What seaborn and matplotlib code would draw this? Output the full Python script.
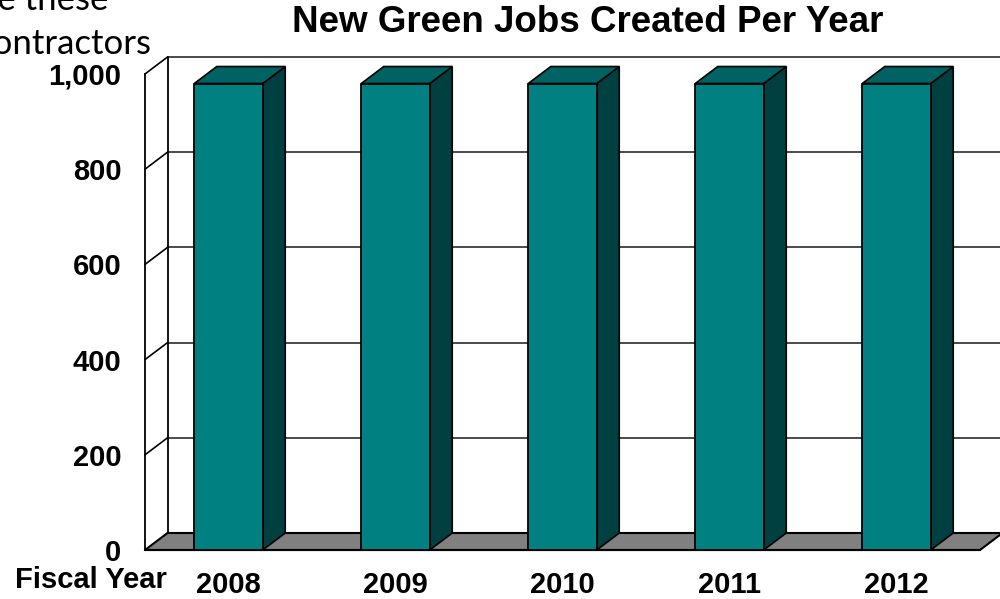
import matplotlib
matplotlib.use("Agg")
import matplotlib.pyplot as plt
from matplotlib.patches import Polygon
import seaborn as sns

# Chart data
years = ["2008", "2009", "2010", "2011", "2012"]
jobs = [980, 980, 980, 980, 980]
y_ticks = [0, 200, 400, 600, 800, 1000]
y_tick_labels = ["0", "200", "400", "600", "800", "1,000"]

title = "New Green Jobs Created Per Year"
x_caption = "Fiscal Year"
slide_lines = ["use these", "contractors"]

sns.set_style("white")
plt.rcParams["font.family"] = ["Liberation Sans", "DejaVu Sans"]
plt.rcParams["text.color"] = "black"
plt.rcParams["xtick.color"] = "black"
plt.rcParams["ytick.color"] = "black"
plt.rcParams["xtick.labelcolor"] = "black"
plt.rcParams["ytick.labelcolor"] = "black"

W, H = 1000, 599
fig = plt.figure(figsize=(W / 100, H / 100), dpi=100)

# Front plane of the 3-D box, in pixels
left_px, right_px, top_px, bottom_px = 145, 980, 74, 550
ax = fig.add_axes([left_px / W, 1 - bottom_px / H,
                   (right_px - left_px) / W, (bottom_px - top_px) / H])

TEAL = "#008080"
TEAL_TOP = "#006262"
TEAL_SIDE = "#004040"
FLOOR = "#808080"

sns.barplot(x=years, y=jobs, color=TEAL, saturation=1, width=0.41,
            edgecolor="black", linewidth=1.3, ax=ax, zorder=5)
bars = list(ax.patches)

x0, x1 = -0.5, len(years) - 0.5
y0, y1 = 0, 1000
ax.set_xlim(x0, x1)
ax.set_ylim(y0, y1)

# Depth of the box: pixel offset converted into data units
depth_px_x, depth_px_y = 22.5, 17
ddx = depth_px_x / (right_px - left_px) * (x1 - x0)
ddy = depth_px_y / (bottom_px - top_px) * (y1 - y0)

# Back wall gridlines and left wall
for v in y_ticks[1:]:
    ax.plot([x0 + ddx, x1 + ddx + 0.2], [v + ddy, v + ddy], color="#4a4a4a",
            lw=1.4, clip_on=False, zorder=1)
    ax.plot([x0, x0 + ddx], [v, v + ddy], color="black", lw=1.2,
            clip_on=False, zorder=1)
ax.plot([x0 + ddx, x0 + ddx], [ddy, y1 + ddy], color="black", lw=1.3,
        clip_on=False, zorder=1)

# Floor
ax.add_patch(Polygon([(x0, 0), (x1, 0), (x1 + ddx, ddy), (x0 + ddx, ddy)],
                     closed=True, facecolor=FLOOR, edgecolor="black",
                     lw=1.5, clip_on=False, zorder=2))

# Top and side faces of each bar
for bar in bars:
    bx, bw, bh = bar.get_x(), bar.get_width(), bar.get_height()
    side = [(bx + bw, 0), (bx + bw + ddx, ddy), (bx + bw + ddx, bh + ddy), (bx + bw, bh)]
    top = [(bx, bh), (bx + bw, bh), (bx + bw + ddx, bh + ddy), (bx + ddx, bh + ddy)]
    ax.add_patch(Polygon(side, closed=True, facecolor=TEAL_SIDE,
                         edgecolor="black", lw=1.2, clip_on=False, zorder=4))
    ax.add_patch(Polygon(top, closed=True, facecolor=TEAL_TOP,
                         edgecolor="black", lw=1.2, clip_on=False, zorder=4))

# Axes styling
for s in ["top", "right"]:
    ax.spines[s].set_visible(False)
ax.spines["left"].set_color("black")
ax.spines["left"].set_linewidth(1.3)
ax.spines["bottom"].set_color("black")
ax.spines["bottom"].set_linewidth(1.5)
ax.spines["left"].set_zorder(6)

ax.set_yticks(y_ticks)
ax.set_yticklabels(y_tick_labels, fontsize=21, fontweight="bold")
ax.tick_params(axis="y", direction="out", length=6, width=1.2, color="black", pad=11)

ax.set_xticks([x0 + i for i in range(len(years) + 1)])
ax.set_xticklabels([])
ax.set_xticks(range(len(years)), minor=True)
ax.set_xticklabels(years, minor=True, fontsize=21, fontweight="bold")
ax.tick_params(axis="x", which="major", direction="out", length=6, width=1.2, color="black")
ax.tick_params(axis="x", which="minor", length=0, pad=15)
ax.set_xlabel("")
ax.set_ylabel("")
ax.grid(False)
ax.set_facecolor("none")

fig.text(167 / W, 1 - 580 / H, x_caption, ha="right", va="center",
         fontsize=21, fontweight="bold")
fig.text(588 / W, 1 - 23 / H, title, ha="center", va="center",
         fontsize=26.5, fontweight="bold")

# Slide text behind the chart
fig.text(108 / W, 1 - 10 / H, slide_lines[0], ha="right", va="baseline",
         fontsize=25, family=["Lato", "DejaVu Sans"])
fig.text(151 / W, 1 - 54 / H, slide_lines[1], ha="right", va="baseline",
         fontsize=25, family=["Lato", "DejaVu Sans"])

fig.savefig("out.png", dpi=100)
